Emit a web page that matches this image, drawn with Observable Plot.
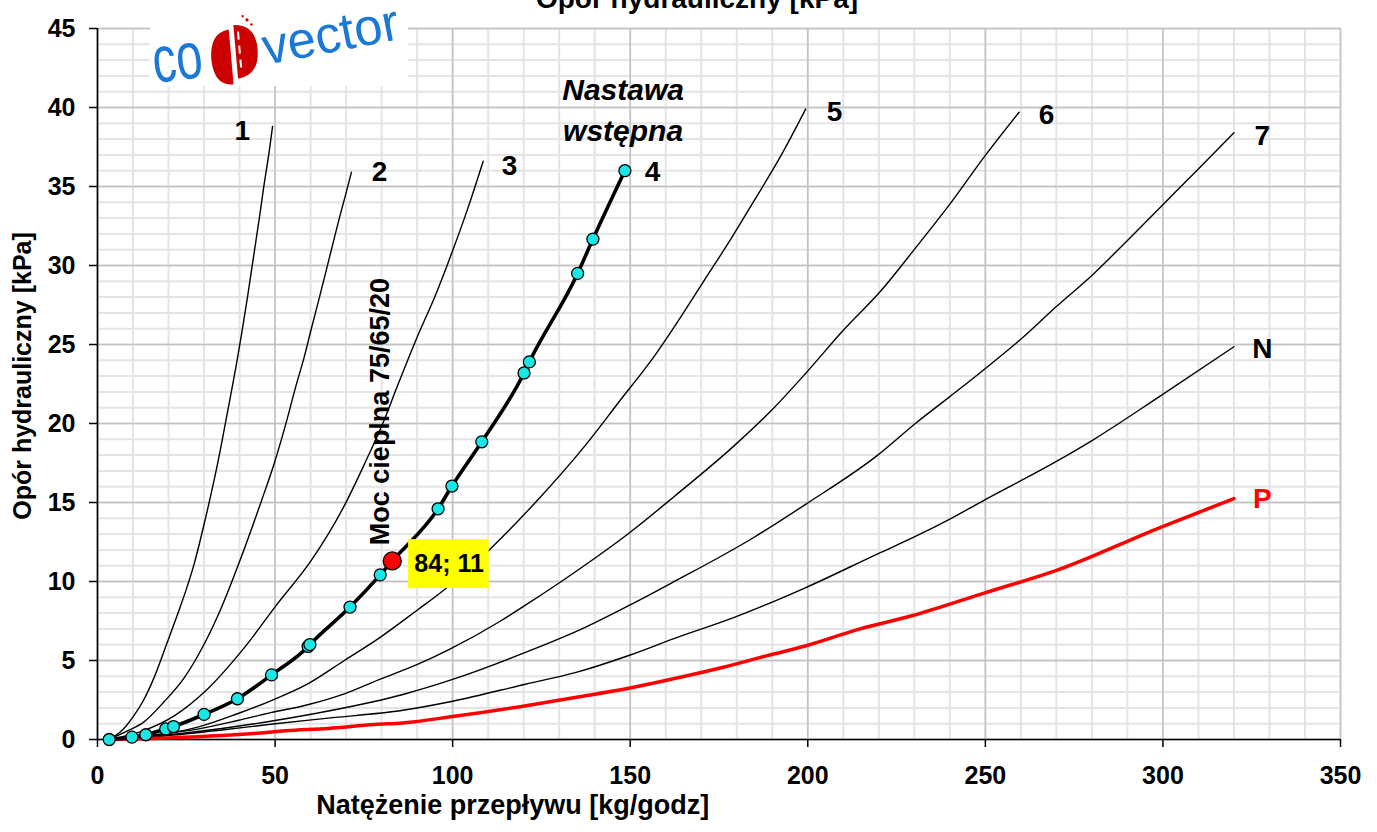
<!DOCTYPE html>
<html>
<head>
<meta charset="utf-8">
<script src="https://cdn.jsdelivr.net/npm/d3@7"></script>
<script src="https://cdn.jsdelivr.net/npm/@observablehq/plot@0.6"></script>
<style>
  html, body { margin: 0; padding: 0; background: #fff; }
  #wrap { position: relative; width: 1377px; height: 832px; overflow: hidden; font-family: "Liberation Sans", Arial, sans-serif; }
  #title { position: absolute; top: -15px; left: 697px; transform: translateX(-50%); font-size: 28px; font-weight: bold; line-height: 1; white-space: nowrap; color: #000; }
  #logo { position: absolute; left: 150px; top: 0px; overflow: visible; }
</style>
</head>
<body>
<div id="wrap">
  <div id="chart"></div>
  <div id="title">Opór hydrauliczny [kPa]</div>
  <svg id="logo" width="262" height="104" viewBox="150 0 262 104">
    <rect x="150" y="0" width="258" height="86" fill="#fff"></rect>
    <text x="155" y="83" transform="rotate(-7 155 83)" font-family="Liberation Sans, Arial, sans-serif" font-size="66" fill="#1a78d6" textLength="50" lengthAdjust="spacingAndGlyphs">co</text>
    <g transform="rotate(-5 235 55)" fill="#cc0000">
      <path d="M231,29 L231,84 Q212,85 211,58 Q211,31 231,29 Z"></path>
      <path d="M236,25 Q258,26 258,51 Q258,77 236,79 Z"></path>
      <rect x="239" y="32" width="2" height="8" fill="#fff"></rect>
      <rect x="239" y="46" width="2" height="8" fill="#fff"></rect>
      <rect x="239" y="60" width="2" height="8" fill="#fff"></rect>
      <circle cx="250" cy="21" r="1.6"></circle>
      <circle cx="254" cy="26" r="1.3"></circle>
      <circle cx="246" cy="17" r="1.2"></circle>
    </g>
    <text x="266" y="65" transform="rotate(-11 266 65)" font-family="Liberation Sans, Arial, sans-serif" font-size="52" fill="#1a78d6" textLength="138" lengthAdjust="spacingAndGlyphs">vector</text>
  </svg>
</div>
<script>
// Axis ticks
const xTicks = [0, 50, 100, 150, 200, 250, 300, 350];
const yTicks = [0, 5, 10, 15, 20, 25, 30, 35, 40, 45];
const xMinorTicks = d3.range(0, 351, 10);
const yMinorTicks = d3.range(0, 46, 1);

// Curve 1
const q1  = [3.3, 7.0, 10.2, 13.0, 15.9, 19.4, 22.5, 25.0, 27.2, 30.3, 33.3, 35.5, 37.6, 39.0, 40.6, 42.3, 43.7, 45.7, 46.7, 48.4, 49.3];
const dp1 = [0, 0.6, 1.5, 2.5, 3.9, 6.0, 7.9, 9.5, 11.1, 13.9, 16.9, 19.4, 21.9, 23.6, 25.7, 28.1, 30.2, 33.2, 34.8, 37.3, 38.8];
// Curve 2
const q2  = [3.3, 8.0, 13.0, 18.8, 24.4, 29.0, 34.6, 40.4, 46.0, 49.8, 53.3, 55.9, 58.2, 60.1, 62.4, 65.3, 68.1, 70.0, 71.5];
const dp2 = [0, 0.5, 1.1, 2.4, 3.9, 5.6, 8.2, 11.5, 15.0, 17.5, 20.2, 22.4, 24.2, 25.9, 27.9, 30.5, 33.0, 34.6, 35.9];
// Curve 3
const q3  = [3.3, 12.2, 21.6, 31.0, 41.3, 50.7, 60.1, 69.5, 75.1, 80.5, 84.5, 89.7, 95.3, 98.6, 104.7, 108.6];
const dp3 = [0, 0.5, 1.5, 3.2, 5.8, 8.6, 11.3, 14.8, 17.4, 20.1, 22.4, 25.3, 28.2, 30.1, 33.9, 36.6];
// Curve 4 (Nastawa wstępna)
const q4  = [3.3, 9.7, 13.6, 19.2, 21.4, 30.0, 39.4, 49.0, 59.3, 59.8, 71.1, 79.6, 83.0, 95.9, 99.8, 108.2, 120.1, 121.6, 135.2, 139.5, 148.5];
const dp4 = [0, 0.15, 0.3, 0.67, 0.82, 1.59, 2.58, 4.09, 5.89, 6.01, 8.38, 10.42, 11.3, 14.6, 16.04, 18.84, 23.2, 23.9, 29.5, 31.67, 36.0];
const q4Markers  = [3.3, 9.7, 13.6, 19.2, 21.4, 30.0, 39.4, 49.0, 59.3, 59.8, 71.1, 79.6, 95.9, 99.8, 108.2, 120.1, 121.6, 135.2, 139.5, 148.5];
const dp4Markers = [0, 0.15, 0.3, 0.67, 0.82, 1.59, 2.58, 4.09, 5.89, 6.01, 8.38, 10.42, 14.6, 16.04, 18.84, 23.2, 23.9, 29.5, 31.67, 36.0];
// Curve 5
const q5  = [3.3, 18.8, 28.2, 39.4, 48.8, 59.2, 69.5, 79.8, 90.1, 97.2, 110.3, 123.3, 137.3, 146.6, 156.9, 164.4, 170.4, 178.4, 184.9, 192.8, 199.4];
const dp5 = [0, 0.35, 0.78, 1.63, 2.45, 3.52, 5.0, 6.5, 8.2, 9.4, 12.0, 15.0, 18.6, 21.3, 24.3, 26.8, 28.9, 31.7, 34.1, 37.1, 39.9];
// Curve 6
const q6  = [3.3, 14.1, 28.2, 39.4, 48.8, 59.2, 69.5, 79.8, 90.1, 99.1, 113.5, 120.5, 134.5, 149.9, 162.5, 179.3, 190.5, 199.5, 210.0, 220.6, 230.3, 239.9, 250.1, 259.5];
const dp6 = [0, 0.25, 0.66, 1.2, 1.7, 2.2, 2.89, 3.84, 4.75, 5.7, 7.5, 8.5, 10.6, 13.1, 15.4, 18.6, 21.0, 23.2, 25.9, 28.4, 31.1, 33.85, 37.0, 39.7];
// Curve 7
const q7  = [3.3, 20, 35, 50, 65, 86, 100, 119.6, 136.4, 149.4, 161.6, 184.9, 199.5, 219.7, 230.3, 240, 250.1, 259.8, 270, 280.6, 290.3, 300, 309.7, 320];
const dp7 = [0, 0.3, 0.7, 1.2, 1.8, 2.85, 3.8, 5.43, 7.0, 8.45, 9.9, 12.8, 14.9, 18.0, 20.0, 21.7, 23.5, 25.3, 27.4, 29.5, 31.65, 33.85, 36.05, 38.4];
// Curve N
const qN  = [3.3, 20, 35, 50, 65, 86, 100, 120.5, 134.5, 149.4, 162.5, 179.3, 199.3, 219.7, 230.3, 240, 250.1, 270, 280.6, 299, 320];
const dpN = [0, 0.25, 0.6, 1.0, 1.35, 1.85, 2.42, 3.5, 4.23, 5.3, 6.4, 7.73, 9.6, 11.75, 12.85, 13.95, 15.2, 17.6, 19.0, 21.7, 24.86];
// Curve P
const qP  = [3.3, 20, 35, 44, 53, 65, 78, 86, 100, 121.5, 134.5, 149.9, 162.5, 176.5, 188.6, 199, 214.7, 229.3, 250.1, 270, 299, 320];
const dpP = [0, 0.1, 0.25, 0.38, 0.55, 0.7, 0.95, 1.05, 1.45, 2.17, 2.66, 3.26, 3.86, 4.59, 5.31, 5.9, 7.0, 7.83, 9.3, 10.7, 13.4, 15.25];

// Curve end labels
const curveLabels = ["1", "2", "3", "4", "5", "6", "7", "N", "P"];
const labelQ  = [40.8, 79.4, 116, 156.3, 207.5, 267.2, 328, 328, 328];
const labelDp = [38.5, 35.9, 36.3, 35.9, 39.7, 39.5, 38.2, 24.7, 15.25];
const labelColor = ["#000", "#000", "#000", "#000", "#000", "#000", "#000", "#000", "#ff0000"];

// Operating point
const opQ = [83.0];
const opDp = [11.3];
const opText = ["84; 11"];

const mk = (name, q, dp) => q.map((v, i) => ({ s: name, q: v, dp: dp[i] }));
const thin = [
  ...mk("1", q1, dp1), ...mk("2", q2, dp2), ...mk("3", q3, dp3),
  ...mk("5", q5, dp5), ...mk("6", q6, dp6), ...mk("7", q7, dp7), ...mk("N", qN, dpN)
];
const curve4 = mk("4", q4, dp4);
const curveP = mk("P", qP, dpP);
const markers4 = mk("4", q4Markers, dp4Markers);
const labels = curveLabels.map((t, i) => ({ t, q: labelQ[i], dp: labelDp[i], c: labelColor[i] }));
const op = opQ.map((q, i) => ({ q, dp: opDp[i], t: opText[i] }));

const FONT = "Liberation Sans, Arial, sans-serif";

const chart = Plot.plot({
  width: 1377,
  height: 832,
  marginTop: 28,
  marginBottom: 93,
  marginLeft: 97,
  marginRight: 37,
  style: { fontFamily: FONT, fontSize: "25px", fontWeight: "bold", color: "#000", background: "transparent" },
  x: { domain: [0, 350] },
  y: { domain: [0, 45] },
  marks: [
    Plot.ruleX(xMinorTicks, { stroke: "#e4e4e4", strokeWidth: 2 }),
    Plot.ruleY(yMinorTicks, { stroke: "#e4e4e4", strokeWidth: 2 }),
    Plot.ruleX(xTicks, { stroke: "#c2c2c2", strokeWidth: 1.5 }),
    Plot.ruleY(yTicks, { stroke: "#c2c2c2", strokeWidth: 1.5 }),
    Plot.ruleY([0], { stroke: "#000", strokeWidth: 1.6 }),
    Plot.ruleX([0], { stroke: "#000", strokeWidth: 1.6 }),
    Plot.axisX({ ticks: xTicks, tickSize: 8, tickPadding: 19, label: null, fontSize: 25, fontWeight: "bold", stroke: "#000", strokeWidth: 1.5 }),
    Plot.axisY({ ticks: yTicks, tickSize: 8, tickPadding: 14, label: null, fontSize: 25, fontWeight: "bold", stroke: "#000", strokeWidth: 1.5 }),
    Plot.line(thin, { x: "q", y: "dp", z: "s", stroke: "#000", strokeWidth: 1.4, curve: "monotone-x" }),
    Plot.line(curveP, { x: "q", y: "dp", stroke: "#ff0000", strokeWidth: 3.5, curve: "monotone-x" }),
    Plot.line(curve4, { x: "q", y: "dp", stroke: "#000", strokeWidth: 3.6, curve: "monotone-x" }),
    Plot.dot(markers4, { x: "q", y: "dp", r: 6, fill: "#19e6e6", stroke: "#000", strokeWidth: 1.3 }),
    Plot.rect(op, { x1: d => d.q + 4.6, x2: d => d.q + 27.3, y1: d => d.dp - 1.75, y2: d => d.dp + 1.35, fill: "#ffff00" }),
    Plot.text(op, { x: d => d.q + 16, y: d => d.dp - 0.2, text: "t", fontSize: 25, fontWeight: "bold", fill: "#000" }),
    Plot.dot(op, { x: "q", y: "dp", r: 9, fill: "#ff0000", stroke: "#000", strokeWidth: 1.3 }),
    Plot.text(["Moc cieplna 75/65/20"], { x: () => 79.7, y: () => 12.3, text: d => d, rotate: -90, textAnchor: "start", fontSize: 27, fontWeight: "bold", fill: "#000" }),
    Plot.text(labels, { x: "q", y: "dp", text: "t", fill: "c", fontSize: 28, fontWeight: "bold" }),
    Plot.text(["Nastawa", "wstępna"], { x: () => 148, y: (d, i) => [41.1, 38.5][i], text: d => d, fontSize: 30, fontWeight: "bold", fontStyle: "italic", fill: "#000" }),
    Plot.text(["Opór hydrauliczny [kPa]"], { frameAnchor: "left", textAnchor: "middle", lineAnchor: "middle", text: d => d, rotate: -90, dx: -75, dy: -8, fontSize: 25, fontWeight: "bold", fill: "#000" }),
    Plot.text(["Natężenie przepływu [kg/godz]"], { x: () => 116.9, frameAnchor: "bottom", lineAnchor: "middle", dy: 66, text: d => d, fontSize: 27, fontWeight: "bold", fill: "#000" })
  ]
});
document.getElementById("chart").appendChild(chart);
</script>
</body>
</html>
